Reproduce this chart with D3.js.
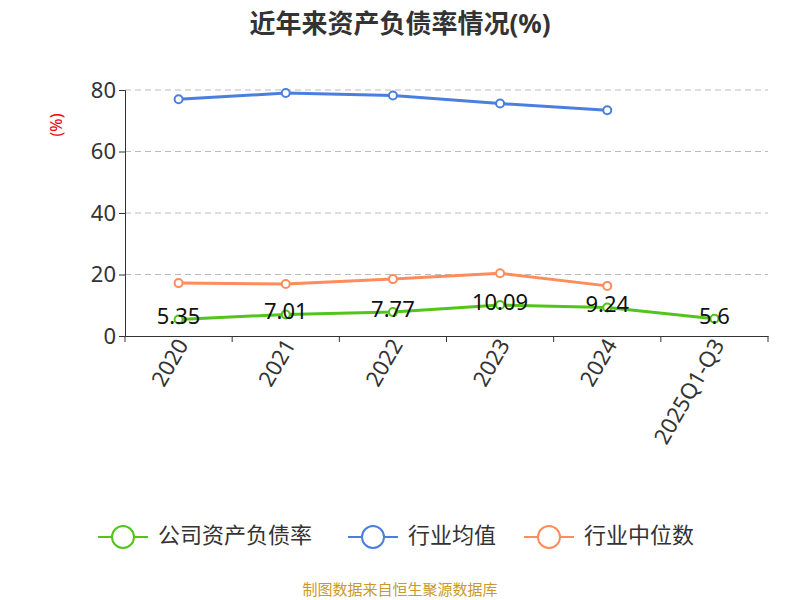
<!DOCTYPE html><html><head><meta charset="utf-8"><script src="https://cdn.jsdelivr.net/npm/d3@7"></script>
<style>body{margin:0;background:#fff}text{font-family:"Noto Sans","Noto Sans CJK SC",sans-serif}</style></head><body><svg id="c" width="800" height="600"></svg><script>
const categories=["2020","2021","2022","2023","2024","2025Q1-Q3"];
const company=[5.35,7.01,7.77,10.09,9.24,5.6];
const industryAvg=[77.0,79.0,78.2,75.6,73.4,null];
const industryMedian=[17.2,16.9,18.5,20.4,16.3,null];
const yTicks=[0,20,40,60,80];
const svg=d3.select("#c");
const x=d3.scaleBand().domain(categories).range([125,768]);
const y=d3.scaleLinear().domain([0,80]).range([336,90]);
const cx=d=>x(d)+x.bandwidth()/2;
svg.append("text").attr("x",400).attr("y",33).attr("text-anchor","middle").attr("font-size",26).attr("font-weight","bold").attr("fill","#333").text("近年来资产负债率情况(%)");
yTicks.forEach(t=>{if(t>0)svg.append("line").attr("x1",125).attr("x2",768).attr("y1",y(t)).attr("y2",y(t)).attr("stroke","#bbb").attr("stroke-dasharray","6,4");});
const ya=svg.append("g").attr("transform","translate(125,0)").call(d3.axisLeft(y).tickValues(yTicks).tickSize(6));
ya.selectAll("text").attr("font-size",22).attr("fill","#333");ya.selectAll("line,path").attr("stroke","#333");
const xa=svg.append("g").attr("transform","translate(0,336)").call(d3.axisBottom(x).tickSize(6).tickSizeOuter(0));
xa.selectAll("line,path").attr("stroke","#333");
xa.selectAll(".tick line").attr("transform",`translate(${-x.bandwidth()/2},0)`);
xa.append("line").attr("x1",768).attr("x2",768).attr("y1",0).attr("y2",6).attr("stroke","#333");
xa.selectAll("text").attr("font-size",22).attr("fill","#333").attr("text-anchor","end").attr("dx","-0.1em").attr("dy","0.2em").attr("transform","rotate(-60)");
svg.append("text").attr("transform","translate(62,125) rotate(-90)").attr("text-anchor","middle").attr("font-size",16).attr("fill","#e00").text("(%)");
const series=[{v:industryAvg,c:"#4a7fe0"},{v:industryMedian,c:"#ff8c5a"},{v:company,c:"#52c41a"}];
series.forEach(s=>{
 const pts=categories.map((c,i)=>[c,s.v[i]]).filter(p=>p[1]!=null);
 svg.append("path").attr("d",d3.line().x(p=>cx(p[0])).y(p=>y(p[1]))(pts)).attr("fill","none").attr("stroke",s.c).attr("stroke-width",3);
 pts.forEach(p=>svg.append("circle").attr("cx",cx(p[0])).attr("cy",y(p[1])).attr("r",4).attr("fill","#fff").attr("stroke",s.c).attr("stroke-width",2));
});
categories.forEach((c,i)=>svg.append("text").attr("x",cx(c)).attr("y",y(company[i])-1).attr("text-anchor","middle").attr("dominant-baseline","middle").attr("font-size",22).attr("fill","#111").text(company[i]));
const leg=[["公司资产负债率","#52c41a",98],["行业均值","#4a7fe0",348],["行业中位数","#ff8c5a",524]];
leg.forEach(([t,c,lx])=>{
 svg.append("line").attr("x1",lx).attr("x2",lx+50).attr("y1",537).attr("y2",537).attr("stroke",c).attr("stroke-width",2);
 svg.append("circle").attr("cx",lx+25).attr("cy",537).attr("r",11).attr("fill","#fff").attr("stroke",c).attr("stroke-width",2);
 svg.append("text").attr("x",lx+60).attr("y",537).attr("dominant-baseline","middle").attr("font-size",22).attr("fill","#333").text(t);
});
svg.append("text").attr("x",400).attr("y",595).attr("text-anchor","middle").attr("font-size",15).attr("fill","#c89a2a").text("制图数据来自恒生聚源数据库");
</script></body></html>
